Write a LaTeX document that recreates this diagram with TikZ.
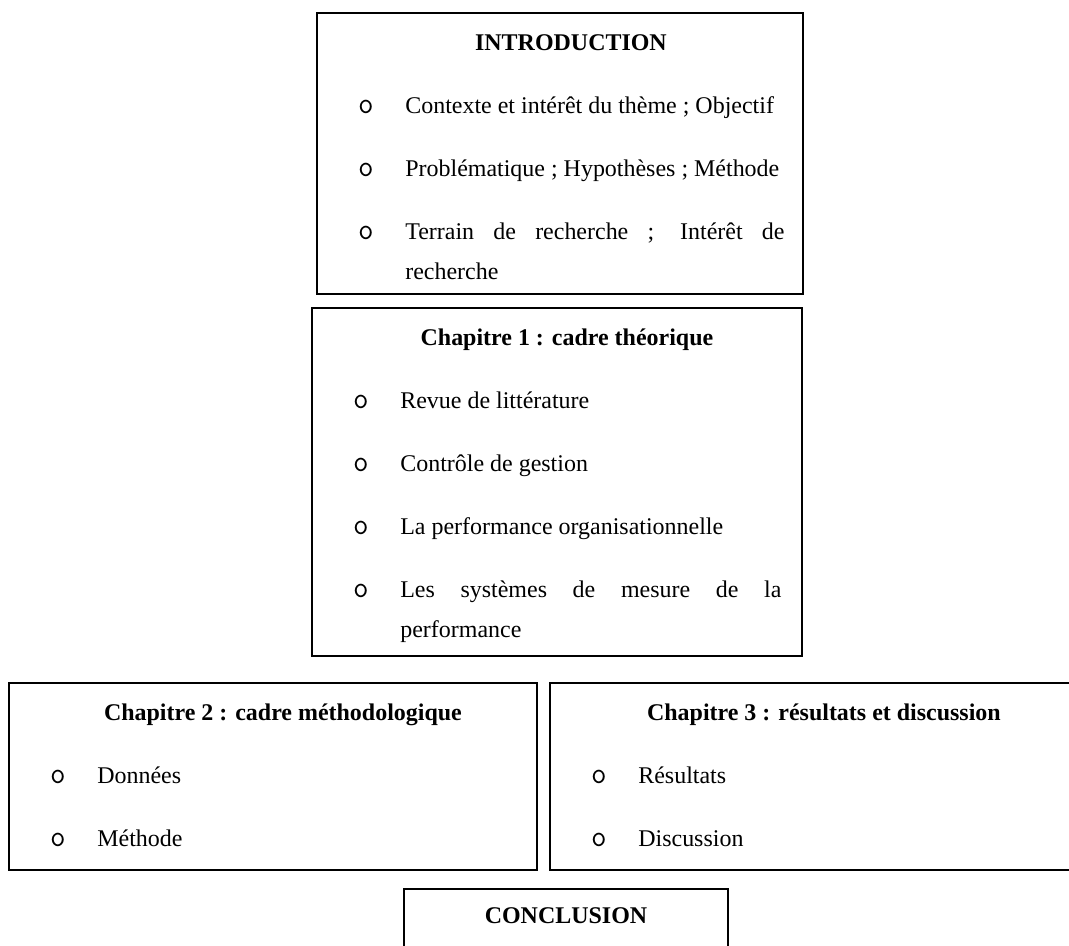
\documentclass[tikz,border=0pt]{standalone}
\usepackage{fontspec}
\setmainfont{Liberation Serif}
\usetikzlibrary{positioning}

\newcommand{\reglages}{\setlength{\parskip}{11pt}\hyphenpenalty=10000\relax}
\newcommand{\titre}[1]{{\centering\bfseries\noindent\strut #1\par}}
\newcommand{\puce}[1]{\par{\leftskip=23pt\noindent\llap{\makebox[8.2pt][c]{\ttfamily\fontsize{14.5pt}{14.5pt}\selectfont o}\hspace{14.8pt}}#1\par}}

\begin{document}
\begin{tikzpicture}[
    boite/.style = {
        draw,
        line width=1pt,
        inner sep=0pt,
        outer sep=0pt
    },
    contenu/.style = {
        anchor=north west,
        inner sep=0pt,
        align=justify,
        font=\fontsize{11.5pt}{19.2pt}\selectfont\reglages
    }
]

  \useasboundingbox (0,0) rectangle (513.12pt,-454.08pt);
  \clip (0,0) rectangle (513.12pt,-454.08pt);

  % cadres
  \node[boite, minimum width=233.28pt, minimum height=134.88pt, anchor=north west] (intro) at (152.16pt,-6.24pt) {};
  \node[boite, minimum width=235.2pt, minimum height=167.04pt] (chapone) [below=6.72pt of intro, xshift=-1.44pt] {};
  \node[boite, minimum width=253.44pt, minimum height=89.76pt, anchor=north west] (chaptwo) at (4.32pt,-327.84pt) {};
  \node[boite, minimum width=253.44pt, minimum height=89.76pt] (chapthree) [right=6.24pt of chaptwo] {};
  \node[boite, minimum width=155.52pt, minimum height=60pt, anchor=north west] (concl) at (193.92pt,-426.72pt) {};

  % textes
  \node[contenu, text width=205pt] (introtexte) at ([shift={(19.2pt,-4.32pt)}]intro.north west) {
    \titre{INTRODUCTION}
    \puce{Contexte et intérêt du thème ; Objectif}
    \puce{Problématique ; Hypothèses ; Méthode}
    \puce{Terrain de recherche ; Intérêt de\linebreak recherche}
  };
  \node[contenu, text width=205.92pt] (chaponetexte) at ([shift={(19.2pt,-4.32pt)}]chapone.north west) {
    \titre{Chapitre 1 : cadre théorique}
    \puce{Revue de littérature}
    \puce{Contrôle de gestion}
    \puce{La performance organisationnelle}
    \puce{Les systèmes de mesure de la\linebreak performance}
  };
  \node[contenu, text width=224.16pt] (chaptwotexte) at ([shift={(19.2pt,-4.32pt)}]chaptwo.north west) {
    \titre{Chapitre 2 : cadre méthodologique}
    \puce{Données}
    \puce{Méthode}
  };
  \node[contenu, text width=224.16pt] (chapthreetexte) at ([shift={(19.2pt,-4.32pt)}]chapthree.north west) {
    \titre{Chapitre 3 : résultats et discussion}
    \puce{Résultats}
    \puce{Discussion}
  };
  \node[font=\fontsize{11.5pt}{19.2pt}\selectfont\bfseries, anchor=base] (concltitre) at ([yshift=-16.32pt]concl.north) {CONCLUSION};
\end{tikzpicture}
\end{document}
